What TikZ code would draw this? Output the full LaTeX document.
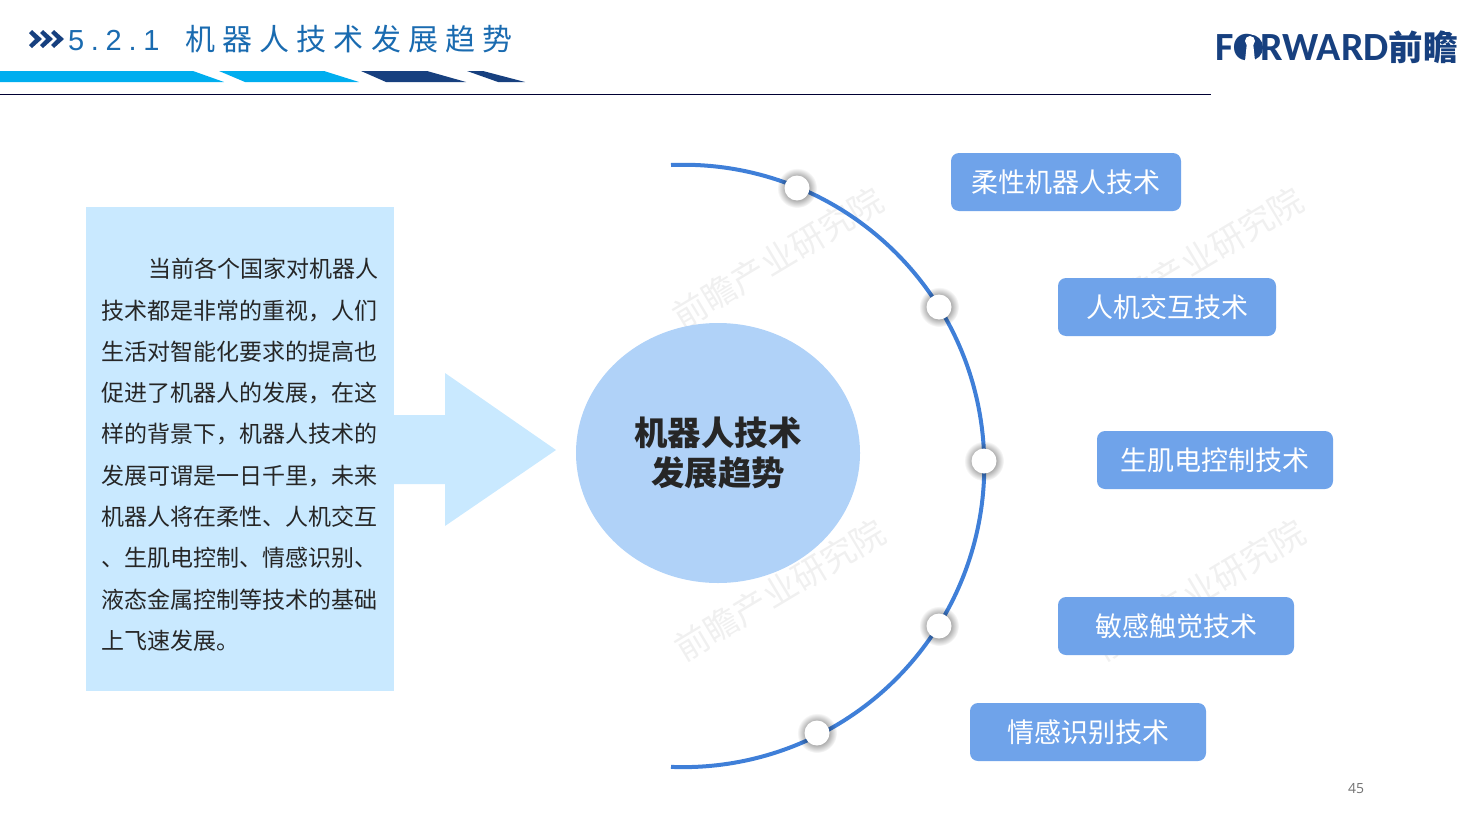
\documentclass[tikz,border=0pt]{standalone}
\usepackage{fontspec}
\usetikzlibrary{fadings,shapes.geometric,positioning}
\setmainfont{Liberation Sans}
\newfontfamily\cjk{Noto Sans CJK SC}
\newfontfamily\cjkt[LetterSpace=24]{Noto Sans CJK SC}
\newfontfamily\latt[LetterSpace=23]{Liberation Sans}
\newfontfamily\logofont{Carlito}
\newfontfamily\numfont{Open Sans}
\definecolor{boxblue}{HTML}{6FA3EA}
\definecolor{arcblue}{HTML}{3F7FD8}
\definecolor{paleblue}{HTML}{C9E9FF}
\definecolor{hubblue}{HTML}{B0D2F8}
\definecolor{barcyan}{HTML}{00AEEF}
\definecolor{barnavy}{HTML}{17407F}
\definecolor{titleblue}{HTML}{1A6BB0}
\tikzfading[name=softhalo, inner color=transparent!20, outer color=transparent!100]
\tikzset{%
   techbox/.style={rounded corners=8pt, fill=boxblue, text=white, inner sep=0pt, font=\cjk\fontsize{27}{27}\selectfont},
   dot/.style={circle, inner sep=0pt, minimum size=25pt, fill=white},
   halo/.style={fill=black, path fading=softhalo},
   stamp/.style={rotate=31, text=black!6, font=\cjk\fontsize{34}{34}\selectfont},
}
\begin{document}
\begin{tikzpicture}[x=1pt, y=-1pt]
   \useasboundingbox (0,0) rectangle (1477,827);
   % header
   \fill[barcyan] (0,71) -- (193,71) -- (224,82) -- (0,82) -- cycle;
   \fill[barcyan] (219,71) -- (324,71) -- (359,82) -- (245,82) -- cycle;
   \fill[barnavy] (361,71) -- (427,71) -- (466,82) -- (386,82) -- cycle;
   \fill[barnavy] (467,71) -- (483,71) -- (525,82) -- (498,82) -- cycle;
   \draw[black!80!blue, line width=1pt] (0,94) -- (1211,94);
   \foreach \x in {29,40,51}
      \fill[barnavy] (\x,33) -- ++(3,-3) -- ++(10,9) -- ++(-10,9) -- ++(-3,-3) -- ++(6,-6) -- cycle;
   \node[anchor=base west, inner sep=0pt, text=titleblue, font=\fontsize{29}{29}\selectfont] (titlenum) at (68,50) {\latt 5.2.1};
   \node[anchor=base west, inner sep=0pt, text=titleblue, font=\fontsize{30}{30}\selectfont] (titletext) at (185,50) {\cjkt 机器人技术发展趋势};
   \node[anchor=base west, inner sep=0pt, text=barnavy, font=\logofont\bfseries\fontsize{40}{40}\selectfont] (logo) at (1215,60) {FORWARD\cjk\fontsize{34.5}{34.5}\selectfont 前瞻};
   \fill[barnavy] (1250,47.5) circle[radius=13pt];
   \fill[white] (1250,41) circle[radius=5pt];
   \fill[white] (1247,42) -- (1253,42) -- (1255,61) -- (1245,61) -- cycle;
   \node[text=black!55, font=\numfont\fontsize{14}{14}\selectfont] (page) at (1356,789) {45};
   % watermark
   \node[stamp] (wm1) at (778,258) {前瞻产业研究院};
   \node[stamp] (wm2) at (1198,258) {前瞻产业研究院};
   \node[stamp] (wm3) at (780,590) {前瞻产业研究院};
   \node[stamp] (wm4) at (1200,590) {前瞻产业研究院};
   % left
   \fill[paleblue] (86,207) rectangle (394,691);
   \fill[paleblue] (394,415) -- (445,415) -- (445,373) -- (556,450) -- (445,526) -- (445,484) -- (394,484) -- cycle;
   \node[anchor=north west, inner sep=0pt, align=left, text=black!85, font=\cjk\fontsize{23}{41.3}\selectfont] (intro) at (101,258) {%
      \hspace*{47pt}当前各个国家对机器人\\
      技术都是非常的重视，人们\\
      生活对智能化要求的提高也\\
      促进了机器人的发展，在这\\
      样的背景下，机器人技术的\\
      发展可谓是一日千里，未来\\
      机器人将在柔性、人机交互\\
      、生肌电控制、情感识别、\\
      液态金属控制等技术的基础\\
      上飞速发展。};
   % hub
   \node[ellipse, fill=hubblue, inner sep=0pt, minimum width=284pt, minimum height=260pt, align=center, text=black!85, font=\cjk\bfseries\fontsize{33.4}{40}\selectfont] (hub) at (718,453) {机器人技术\\发展趋势};
   % arc
   \coordinate (arctop) at (671,165);
   \draw[arcblue, line width=4pt] (arctop) arc[start angle=92.3, end angle=-92.3, radius=301.2pt];
   \foreach \name/\px/\py in {d1/797/188, d2/939/307, d3/984/461, d4/939/626, d5/817/733} {
      \fill[halo] (\px,\py) circle[radius=20pt];
      \node[dot] (\name) at (\px,\py) {};
   }
   % boxes
   \node[techbox, minimum width=230pt, minimum height=58pt] (t1) at (1066,182) {柔性机器人技术};
   \node[techbox, minimum width=218pt, minimum height=58pt] (t2) at (1167,307) {人机交互技术};
   \node[techbox, minimum width=236pt, minimum height=58pt] (t3) at (1215,460) {生肌电控制技术};
   \node[techbox, minimum width=236pt, minimum height=58pt] (t4) at (1176,626) {敏感触觉技术};
   \node[techbox, minimum width=236pt, minimum height=58pt] (t5) at (1088,732) {情感识别技术};
\end{tikzpicture}
\end{document}
